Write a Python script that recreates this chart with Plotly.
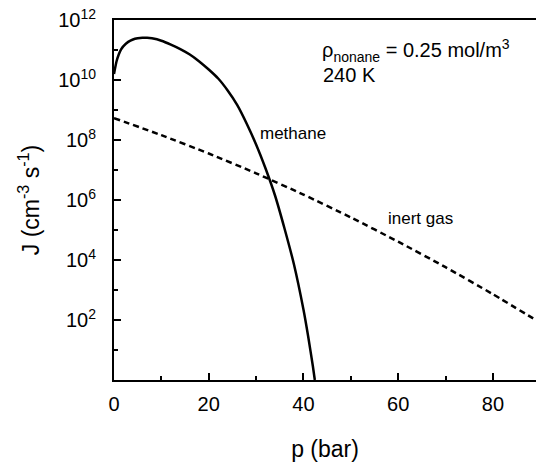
import plotly.graph_objects as go

# Data (log10 of J)
methane_p = [0, 0.5, 1, 1.5, 2, 3, 4, 5, 6, 7, 8, 10, 12, 14, 16, 18, 20, 22, 24, 26, 28, 30, 32, 34, 36, 38, 40, 41, 42, 42.4]
methane_logJ = [10.2, 10.6, 10.85, 11.02, 11.13, 11.27, 11.35, 11.39, 11.41, 11.41, 11.39, 11.31, 11.18, 11.03, 10.85, 10.62, 10.35, 10.05, 9.65, 9.17, 8.55, 7.85, 7.05, 6.15, 5.05, 3.85, 2.35, 1.45, 0.45, 0.0]

inert_p = [0, 10, 20, 30, 40, 50, 60, 70, 80, 90]
inert_logJ = [8.73, 8.16, 7.55, 6.89, 6.18, 5.42, 4.61, 3.76, 2.86, 1.91]

ytick_vals = [1e2, 1e4, 1e6, 1e8, 1e10, 1e12]
ytick_text = ["10<sup>2</sup>", "10<sup>4</sup>", "10<sup>6</sup>", "10<sup>8</sup>", "10<sup>10</sup>", "10<sup>12</sup>"]
yminor_vals = [1e1, 1e3, 1e5, 1e7, 1e9, 1e11]
xtick_vals = [0, 20, 40, 60, 80]

FONT = "Liberation Sans, Arial, Helvetica, sans-serif"

fig = go.Figure()
fig.add_trace(go.Scatter(
    x=methane_p, y=[10 ** v for v in methane_logJ], mode="lines",
    line=dict(color="black", width=2.5, shape="spline", smoothing=0.5),
    showlegend=False, hoverinfo="skip"))
fig.add_trace(go.Scatter(
    x=inert_p, y=[10 ** v for v in inert_logJ], mode="lines",
    line=dict(color="black", width=2.5, dash="6px,4px", shape="spline", smoothing=0.6),
    showlegend=False, hoverinfo="skip"))

fig.update_layout(
    width=536, height=466, autosize=False,
    margin=dict(l=114, r=0, t=20, b=86),
    paper_bgcolor="white", plot_bgcolor="white",
    font=dict(family=FONT, color="black"),
    xaxis=dict(
        range=[0, 89.1], showgrid=False, zeroline=False,
        showline=True, linecolor="black", linewidth=2, mirror=True,
        ticks="inside", ticklen=7, tickwidth=1.5, tickcolor="black",
        tickvals=xtick_vals, tickfont=dict(size=20, family=FONT),
        ticklabelstandoff=5,
        minor=dict(tickvals=[10, 30, 50, 70], ticks="inside", ticklen=4, tickwidth=1.5, tickcolor="black"),
        title=dict(text="p (bar)", font=dict(size=23, family=FONT), standoff=27),
    ),
    yaxis=dict(
        type="log", range=[0, 12], showgrid=False, zeroline=False,
        showline=True, linecolor="black", linewidth=2,
        ticks="inside", ticklen=7, tickwidth=1.5, tickcolor="black",
        tickvals=ytick_vals, ticktext=ytick_text, tickfont=dict(size=20, family=FONT),
        ticklabelstandoff=12,
        minor=dict(tickvals=yminor_vals, ticks="inside", ticklen=4, tickwidth=1.5, tickcolor="black"),
        title=dict(text="J (cm<sup>-3</sup> s<sup>-1</sup>)", font=dict(size=23, family=FONT), standoff=12),
    ),
)

annots = [
    dict(text="ρ<sub>nonane</sub> = 0.25 mol/m<sup>3</sup>", x=0.488, y=0.914, size=20),
    dict(text="240 K", x=0.49, y=0.847, size=20),
    dict(text="methane", x=0.342, y=0.686, size=17),
    dict(text="inert gas", x=0.645, y=0.45, size=17),
]
for a in annots:
    fig.add_annotation(text=a["text"], x=a["x"], y=a["y"], xref="paper", yref="paper",
                       xanchor="left", yanchor="middle", showarrow=False,
                       font=dict(size=a["size"], family=FONT, color="black"))

fig.write_html("out.html")
